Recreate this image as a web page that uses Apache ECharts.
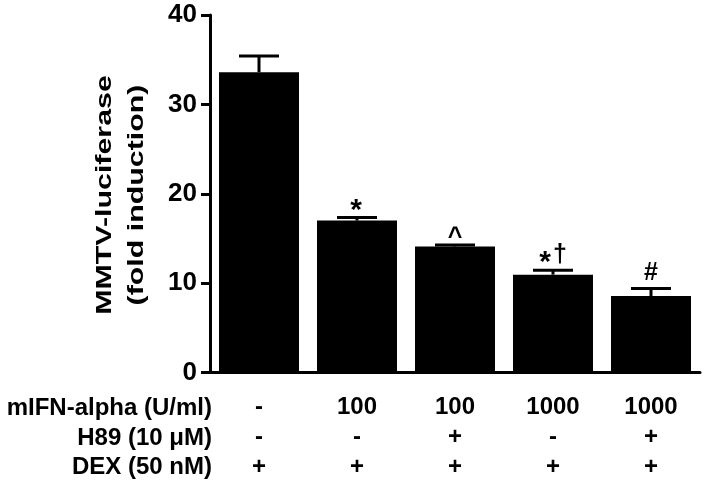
<!DOCTYPE html>
<html>
<head>
<meta charset="utf-8">
<script src="https://cdn.jsdelivr.net/npm/echarts@6/dist/echarts.min.js"></script>
<style>
html,body{margin:0;padding:0;background:#fff;}
#chart{width:712px;height:491px;}
</style>
</head>
<body>
<div id="chart"></div>
<script>
// ---- data ----
const mIFN = ['-', '100', '100', '1000', '1000'];
const h89 = ['-', '-', '+', '-', '+'];
const dex = ['+', '+', '+', '+', '+'];
const rowLabels = ['mIFN-alpha (U/ml)', 'H89 (10 μM)', 'DEX (50 nM)'];
const values = [33.6, 17.0, 14.1, 10.95, 8.55];
const errors = [1.8, 0.33, 0.16, 0.5, 0.85];
const marks = ['', '*', '^', '*†', '#'];
const yTitle = 'MMTV-luciferase\n(fold induction)';

// ---- build ----
const FONT = '"Liberation Sans", Arial, Helvetica, sans-serif';
const categories = mIFN.map((m, i) => m + '\n' + h89[i] + '\n' + dex[i]);
const errData = values.map((v, i) => [i, v, errors[i]]);

function richMark(s) {
  return Array.from(s).map(ch => {
    if (ch === '*') return '{a|*}';
    if (ch === '^') return '{c|^}';
    return '{n|' + ch + '}';
  }).join('');
}
const markRich = {
  n: {fontSize: 25, fontWeight: 'bold', fontFamily: FONT, color: '#000'},
  a: {fontSize: 30, fontWeight: 'bold', fontFamily: FONT, color: '#000', padding: [16, 2, 0, 0]},
  c: {fontSize: 25, fontWeight: 'bold', fontFamily: FONT, color: '#000', padding: [16, 0, 0, 0]}
};

const chart = echarts.init(document.getElementById('chart'), null, {renderer: 'canvas'});

const rowY = [408, 438, 467];
const graphics = rowLabels.map((t, i) => ({
  type: 'text',
  x: 212,
  y: rowY[i],
  style: {
    text: t,
    fill: '#000',
    font: 'bold 24px ' + FONT,
    align: 'right',
    verticalAlign: 'middle'
  }
}));
graphics.push({
  type: 'text',
  x: 120.5,
  y: 195,
  rotation: Math.PI / 2,
  scaleX: 1.38,
  scaleY: 1,
  style: {
    text: yTitle,
    fill: '#000',
    font: 'bold 22px ' + FONT,
    align: 'center',
    verticalAlign: 'middle',
    lineHeight: 32
  }
});

chart.setOption({
  animation: false,
  backgroundColor: '#fff',
  grid: {left: 210, right: 12, top: 15, bottom: 118.5, containLabel: false},
  xAxis: {
    type: 'category',
    data: categories,
    axisLine: {lineStyle: {color: '#000', width: 3}},
    axisTick: {show: false},
    axisLabel: {
      color: '#000',
      fontSize: 24,
      fontWeight: 'bold',
      fontFamily: FONT,
      lineHeight: 30,
      margin: 20,
      interval: 0
    }
  },
  yAxis: {
    type: 'value',
    min: 0,
    max: 40,
    interval: 10,
    splitLine: {show: false},
    axisLine: {show: true, lineStyle: {color: '#000', width: 3}},
    axisTick: {show: true, length: 9, lineStyle: {color: '#000', width: 3}},
    axisLabel: {
      color: '#000',
      fontSize: 26,
      fontWeight: 'bold',
      fontFamily: FONT,
      margin: 13
    }
  },
  graphic: graphics,
  series: [
    {
      type: 'bar',
      data: values,
      barWidth: 80,
      itemStyle: {color: '#000'},
      z: 2
    },
    {
      type: 'custom',
      z: 3,
      data: errData,
      encode: {x: 0, y: 1},
      renderItem: function (params, api) {
        const i = api.value(0);
        const v = api.value(1);
        const e = api.value(2);
        const base = api.coord([i, v]);
        const top = api.coord([i, v + e]);
        const half = 20;
        const children = [
          {type: 'line', shape: {x1: base[0], y1: base[1], x2: top[0], y2: top[1]},
           style: {stroke: '#000', lineWidth: 3}},
          {type: 'line', shape: {x1: top[0] - half, y1: top[1], x2: top[0] + half, y2: top[1]},
           style: {stroke: '#000', lineWidth: 3}}
        ];
        const m = marks[params.dataIndex];
        if (m) {
          children.push({
            type: 'text',
            x: top[0],
            y: top[1] - 15,
            style: {
              text: richMark(m),
              rich: markRich,
              fill: '#000',
              align: 'center',
              verticalAlign: 'middle'
            }
          });
        }
        return {type: 'group', children: children};
      }
    }
  ]
});
</script>
</body>
</html>
